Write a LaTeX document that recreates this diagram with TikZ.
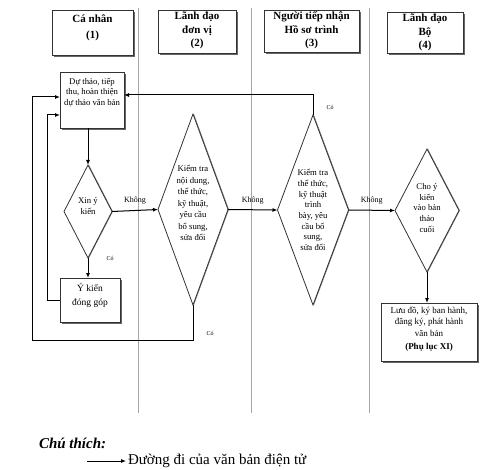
\documentclass[tikz,border=0pt]{standalone}
\usepackage{fontspec}
\setmainfont{Liberation Serif}
\usetikzlibrary{shapes.geometric,arrows.meta,shadows}
\begin{document}
\begin{tikzpicture}[x=1pt,y=-1pt,
  every node/.style={inner sep=0pt,outer sep=0pt},
  lane/.style={draw=black!35,line width=0.6pt},
  shad/.style={drop shadow={shadow xshift=1.6pt,shadow yshift=-1.6pt,fill=black!60,opacity=1}},
  hbox/.style={draw=black!80,line width=0.8pt,fill=white,shad,rectangle},
  dia/.style={draw=black!80,line width=0.8pt,fill=white,diamond,
    drop shadow={shadow xshift=1pt,shadow yshift=0pt,fill=black!50,opacity=1}},
  htxt/.style={font=\bfseries\fontsize{11}{13.5}\selectfont,align=center},
  btxt/.style={font=\fontsize{8.7}{10.5}\selectfont,align=center},
  ytxt/.style={font=\fontsize{8}{6}\selectfont},
  ctxt/.style={font=\fontsize{6}{6}\selectfont},
  arr/.style={draw=black,line width=1pt,-{Latex[length=5pt,width=4pt]}}
]
\useasboundingbox (0,0) rectangle (500,470);
% lanes
\draw[lane] (138,8) -- (138,413);
\draw[lane] (251,8) -- (251,413);
\draw[lane] (369,8) -- (369,413);
% headers
\node[hbox,minimum width=81pt,minimum height=45pt] (h1) at (92.5,32.5) {};
\node[htxt] (h1t) at (92.5,28) {Cá nhân\\[3pt](1)};
\node[hbox,minimum width=78pt,minimum height=43pt] (h2) at (197,31.5) {};
\node[htxt] (h2t) at (197,30.5) {Lãnh đạo\\đơn vị\\(2)};
\node[hbox,minimum width=95pt,minimum height=42pt] (h3) at (311.5,31) {};
\node[htxt] (h3t) at (311.5,30.5) {Người tiếp nhận\\Hồ sơ trình\\(3)};
\node[hbox,minimum width=76pt,minimum height=41pt] (h4) at (425,32.5) {};
\node[htxt] (h4t) at (h4) {Lãnh đạo\\Bộ\\(4)};
% boxes
\node[hbox,minimum width=64pt,minimum height=56pt] (A) at (92,100) {};
\node[btxt] (At) at (92,92.5) {Dự thảo, tiếp\\thu, hoàn thiện\\dự thảo văn bản};
\node[hbox,minimum width=60pt,minimum height=44pt] (B) at (90,300) {};
\node[btxt,font=\fontsize{9.5}{14}\selectfont] (Bt) at (90,295) {Ý kiến\\đóng góp};
\node[hbox,minimum width=96pt,minimum height=58pt] (C) at (429,332) {};
\node[btxt,font=\fontsize{9}{11.5}\selectfont] (Ct) at (429,329) {Lưu đồ, ký ban hành,\\đăng ký, phát hành\\văn bản\\[2pt]\textbf{(Phụ lục XI)}};
% diamonds
\node[dia,minimum width=48pt,minimum height=93pt] (X) at (88,211.5) {};
\node[btxt] (Xt) at (88,206) {Xin ý\\kiến};
\node[dia,minimum width=70pt,minimum height=191pt] (D2) at (193,209.5) {};
\node[btxt,font=\fontsize{8.7}{11.5}\selectfont] (D2t) at (193,203) {Kiểm tra\\nội dung,\\thể thức,\\kỹ thuật,\\yêu cầu\\bổ sung,\\sửa đổi};
\node[dia,minimum width=71pt,minimum height=190pt] (D3) at (313,210) {};
\node[btxt,font=\fontsize{8.7}{10.7}\selectfont] (D3t) at (313,210) {Kiểm tra\\thể thức,\\kỹ thuật\\trình\\bày, yêu\\cầu bổ\\sung,\\sửa đổi};
\node[dia,minimum width=64pt,minimum height=123pt] (D4) at (427,210.5) {};
\node[btxt,font=\fontsize{8.7}{10.8}\selectfont] (D4t) at (427,208) {Cho ý\\kiến\\vào bản\\thảo\\cuối};
% connectors
\draw[arr] (X.north |- A.south) -- (X.north);
\draw[arr] (X.south) -- (X.south |- B.north);
\draw[arr] (X.east) -- (D2.west) node[ytxt,midway,above=6pt] (k1) {Không};
\draw[arr] (D2.east) -- (D3.west) node[ytxt,midway,above=6pt] (k2) {Không};
\draw[arr] (D3.east) -- (D4.west) node[ytxt,midway,above=6pt] (k3) {Không};
\draw[arr] (D4.south) -- (D4.south |- C.north);
\draw[arr] (D3.north) |- ([yshift=5pt]A.east);
\coordinate (L1) at (32,340);
\draw[arr] (D2.south) |- (L1) |- ([yshift=3pt]A.west);
\coordinate (L2) at (47,300);
\draw[arr] (B.west) -- (L2) |- ([yshift=-15pt]A.west);
\node[ctxt] (c1) at (110,258) {Có};
\node[ctxt] (c2) at (210,333) {Có};
\node[ctxt] (c3) at (330,107) {Có};
% legend
\node[anchor=west,font=\bfseries\itshape\fontsize{15}{17}\selectfont] (ct) at (39,443) {Chú thích:};
\coordinate (la) at (87,461);
\node[anchor=west,font=\fontsize{15}{17}\selectfont] (lt) at (128,461) {Đường đi của văn bản điện tử};
\draw[arr,line width=0.8pt] (la) -- ([xshift=-2pt]lt.west);
\end{tikzpicture}
\end{document}
